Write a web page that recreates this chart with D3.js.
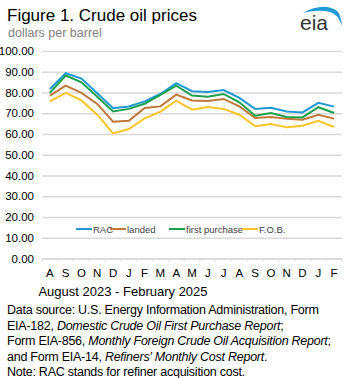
<!DOCTYPE html>
<html>
<head>
<meta charset="utf-8">
<script src="https://cdn.jsdelivr.net/npm/d3@7"></script>
<style>
  body { margin: 0; background: #fff; }
  svg { display: block; font-family: Arial, "Liberation Sans", sans-serif; }
</style>
</head>
<body>
<svg width="349" height="378"></svg>
<script>
// months Aug 2023 - Feb 2025
const months = ["A","S","O","N","D","J","F","M","A","M","J","J","A","S","O","N","D","J","F"];
const rac     = [81.7, 89.3, 86.7, 79.6, 72.4, 73.3, 75.7, 79.3, 84.5, 80.6, 80.3, 81.2, 77.4, 72.1, 72.6, 70.9, 70.4, 75.0, 73.2];
const landed  = [78.5, 83.3, 79.8, 74.5, 65.9, 66.4, 72.5, 73.3, 79.0, 76.2, 75.9, 76.9, 73.3, 67.7, 68.2, 67.4, 66.9, 69.3, 67.4];
const firstPurchase = [79.8, 88.2, 84.9, 78.0, 70.9, 72.1, 74.6, 78.8, 83.3, 78.5, 77.9, 79.3, 75.3, 68.8, 70.1, 68.2, 68.0, 72.9, 70.1];
const fob     = [75.7, 79.8, 76.2, 69.3, 60.3, 62.4, 67.5, 70.8, 76.1, 71.7, 73.0, 72.1, 69.3, 63.7, 64.8, 63.2, 64.0, 66.4, 63.4];
const yTicks = [0, 10, 20, 30, 40, 50, 60, 70, 80, 90, 100];

const series = [
  {name: "RAC", values: rac, color: "#1f9ad6"},
  {name: "landed", values: landed, color: "#c0783a"},
  {name: "first purchase", values: firstPurchase, color: "#1ba14b"},
  {name: "F.O.B.", values: fob, color: "#ffc526"}
];

let svg = d3.select("svg");
const font = "Arial, 'Liberation Sans', sans-serif";

let x = d3.scaleBand()
  .domain(d3.range(months.length))
  .range([42, 342]);
let y = d3.scaleLinear()
  .domain([0, 100])
  .range([258.5, 51]);

// title
svg.append("text").attr("x", 7).attr("y", 21)
  .attr("font-size", 17).attr("fill", "#000")
  .text("Figure 1. Crude oil prices");
svg.append("text").attr("x", 8).attr("y", 37)
  .attr("font-size", 12.5).attr("fill", "#7f7f7f")
  .text("dollars per barrel");

// eia logo
let logo = svg.append("g");
logo.append("path")
  .attr("d", "M303,13 Q322,2 336,10 Q341,14 342,26 Q338,14 330,12 Q318,9 303,13 Z")
  .attr("fill", "#1f9ad6");
logo.append("text").attr("x", 300).attr("y", 30)
  .attr("font-size", 21).attr("fill", "#333")
  .text("eia");

// grid
let yAxis = d3.axisLeft(y).tickValues(yTicks)
  .tickFormat(d3.format(".2f"))
  .tickSize(-300);
svg.append("g")
  .attr("transform", "translate(42,0)")
  .call(yAxis)
  .call(g => g.select(".domain").remove())
  .call(g => g.selectAll(".tick line").attr("stroke", "#d9d9d9").attr("stroke-width", 1.5))
  .call(g => g.selectAll(".tick text").attr("x", -8).attr("font-size", 11.5)
    .attr("fill", "#000").attr("font-family", font));

// x axis
let xAxis = d3.axisBottom(x).tickFormat(i => months[i]).tickSize(0).tickPadding(10);
let xg = svg.append("g")
  .attr("transform", "translate(0," + y(0) + ")")
  .call(xAxis);
xg.select(".domain").attr("stroke", "#d9d9d9").attr("stroke-width", 1.5);
xg.selectAll(".tick text").attr("font-size", 11.5).attr("fill", "#000")
  .attr("font-family", font);
// small ticks at band edges
xg.selectAll(".edge")
  .data(d3.range(months.length + 1))
  .enter()
  .append("line")
  .attr("x1", i => 42 + i * x.step())
  .attr("x2", i => 42 + i * x.step())
  .attr("y1", 0).attr("y2", 3)
  .attr("stroke", "#d9d9d9");

svg.append("text").attr("x", 123).attr("y", 296)
  .attr("text-anchor", "middle").attr("font-size", 13)
  .text("August 2023 - February 2025");

// lines
let line = d3.line()
  .x((d, i) => x(i) + x.bandwidth() / 2)
  .y(d => y(d));

svg.selectAll(".series")
  .data(series)
  .enter()
  .append("path")
  .attr("fill", "none")
  .attr("stroke", s => s.color)
  .attr("stroke-width", 2)
  .attr("d", s => line(s.values));

// legend
let legendPos = [76, 110, 169, 242];
let leg = svg.selectAll(".leg")
  .data(series)
  .enter()
  .append("g")
  .attr("transform", (s, i) => "translate(" + legendPos[i] + ",229)");
leg.append("line").attr("x1", 0).attr("x2", 16)
  .attr("stroke", s => s.color).attr("stroke-width", 2);
leg.append("text").attr("x", 17).attr("y", 3.5)
  .attr("font-size", 9.5).attr("fill", "#404040")
  .text(s => s.name);

// source note
let lines = [
  [["Data source: U.S. Energy Information Administration, Form", false]],
  [["EIA-182, ", false], ["Domestic Crude Oil First Purchase Report", true], [";", false]],
  [["Form EIA-856, ", false], ["Monthly Foreign Crude Oil Acquisition Report", true], [";", false]],
  [["and Form EIA-14, ", false], ["Refiners' Monthly Cost Report", true], [".", false]],
  [["Note: RAC stands for refiner acquisition cost.", false]]
];
lines.forEach((parts, li) => {
  let t = svg.append("text").attr("x", 7).attr("y", 314 + li * 15.5)
    .attr("font-size", 12.5).attr("letter-spacing", -0.25);
  parts.forEach(p => {
    t.append("tspan").attr("font-style", p[1] ? "italic" : "normal").text(p[0]);
  });
});
</script>
</body>
</html>
